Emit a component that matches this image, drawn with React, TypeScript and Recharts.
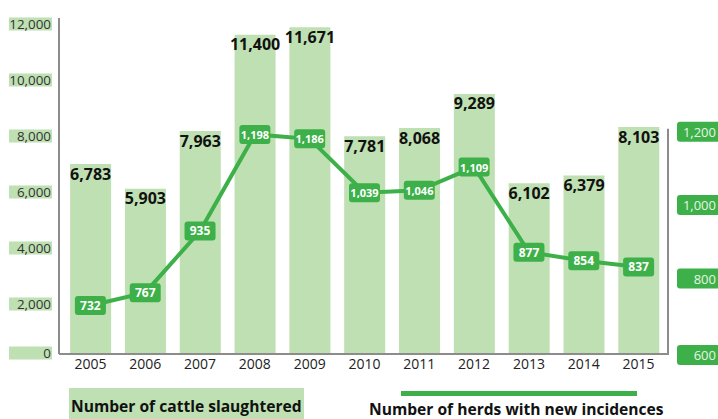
import React from 'react';
import { ComposedChart, Bar, Line, XAxis, YAxis, LabelList } from 'recharts';

const years = ['2005', '2006', '2007', '2008', '2009', '2010', '2011', '2012', '2013', '2014', '2015'];
const cattleSlaughtered = [6783, 5903, 7963, 11400, 11671, 7781, 8068, 9289, 6102, 6379, 8103];
const herdsNewIncidences = [732, 767, 935, 1198, 1186, 1039, 1046, 1109, 877, 854, 837];
const leftTicks = [0, 2000, 4000, 6000, 8000, 10000, 12000];
const rightTicks = [600, 800, 1000, 1200];

const data = years.map((year, i) => ({
  year,
  cattle: cattleSlaughtered[i],
  herds: herdsNewIncidences[i],
}));

const FONT = '"Open Sans", sans-serif';
const BAR_GREEN = '#bee0b2';
const LINE_GREEN = '#3db049';
const AXIS_GRAY = '#8c8c8c';

const CHART_W = 718;
const CHART_H = 419;
const MARGIN = { top: 18, right: 0, bottom: 45, left: 0 };
const X_AXIS_H = 20;
const PLOT_BOTTOM = CHART_H - MARGIN.bottom - X_AXIS_H;

const fmt = (v: number) => v.toLocaleString('en-US');

const LeftTick = (props: any) => {
  const { y, payload } = props;
  const cy = y + (payload.value === 0 ? -1 : 6);
  return (
    <g>
      <rect x={9} y={cy - 6.5} width={43} height={13} fill={BAR_GREEN} />
      <text x={51} y={cy} textAnchor="end" dominantBaseline="central" fontSize={13.4} fill="#333" fontFamily={FONT}>
        {fmt(payload.value)}
      </text>
    </g>
  );
};

const RightTick = (props: any) => {
  const { x, y, payload } = props;
  const cy = payload.value === 600 ? y + 1 : y - 2;
  return (
    <g>
      {/* short right frame line, starts at the top tick */}
      {payload.value === 1200 && (
        <line x1={x} x2={x} y1={cy - 3} y2={PLOT_BOTTOM + 1} stroke={AXIS_GRAY} strokeWidth={2} />
      )}
      <rect x={x + 9} y={cy - 10} width={50} height={20} rx={3} fill={LINE_GREEN} />
      <text x={x + 48} y={cy} textAnchor="end" dominantBaseline="central" fontSize={13} fill="#e8f5e4" fontFamily={FONT}>
        {fmt(payload.value)}
      </text>
    </g>
  );
};

const YearTick = (props: any) => {
  const { x, y, payload } = props;
  return (
    <text x={x} y={y + 15} textAnchor="middle" fontSize={14} fill="#222" fontFamily={FONT}>
      {payload.value}
    </text>
  );
};

const CattleLabel = (props: any) => {
  const { x, y, width, value } = props;
  return (
    <text x={x + width / 2} y={y + 15.5} textAnchor="middle" fontSize={16} fontWeight="bold" fill="#111" fontFamily={FONT}>
      {fmt(value)}
    </text>
  );
};

const HerdLabel = (props: any) => {
  const { x, y, value } = props;
  const txt = fmt(value);
  const long = txt.length > 3;
  return (
    <g>
      <rect x={x - 15.5} y={y - 9.5} width={31} height={19} rx={3} fill={LINE_GREEN} />
      <text
        x={x}
        y={y}
        textAnchor="middle"
        dominantBaseline="central"
        fontSize={long ? 11 : 12}
        fontWeight="bold"
        fill="#fff"
        fontFamily={FONT}
      >
        {txt}
      </text>
    </g>
  );
};

export default function App() {
  return (
    <div style={{ position: 'absolute', left: 0, top: 0, width: CHART_W, height: CHART_H, overflow: 'hidden', background: '#fff', fontFamily: FONT }}>
      <ComposedChart width={CHART_W} height={CHART_H} data={data} margin={MARGIN} barCategoryGap="13%">
        <XAxis
          dataKey="year"
          height={X_AXIS_H}
          padding={{ left: 4, right: 2 }}
          axisLine={{ stroke: AXIS_GRAY, strokeWidth: 2 }}
          tickLine={false}
          tickSize={0}
          tickMargin={0}
          interval={0}
          tick={<YearTick />}
        />
        <YAxis
          yAxisId="left"
          width={59}
          domain={[0, 12000]}
          ticks={leftTicks}
          interval={0}
          axisLine={{ stroke: AXIS_GRAY, strokeWidth: 2 }}
          tickLine={false}
          tickSize={0}
          tickMargin={0}
          tick={<LeftTick />}
        />
        <YAxis
          yAxisId="right"
          orientation="right"
          width={50}
          domain={[600, 1515]}
          ticks={rightTicks}
          interval={0}
          allowDataOverflow
          axisLine={false}
          tickLine={false}
          tickSize={0}
          tickMargin={0}
          tick={<RightTick />}
        />
        <Bar yAxisId="left" dataKey="cattle" fill={BAR_GREEN} isAnimationActive={false}>
          <LabelList dataKey="cattle" content={<CattleLabel />} />
        </Bar>
        <Line
          yAxisId="right"
          dataKey="herds"
          type="linear"
          stroke={LINE_GREEN}
          strokeWidth={4}
          dot={false}
          activeDot={false}
          isAnimationActive={false}
        >
          <LabelList dataKey="herds" content={<HerdLabel />} />
        </Line>
      </ComposedChart>

      {/* legend */}
      <div style={{ position: 'absolute', left: 69, top: 388, width: 235, height: 31, background: BAR_GREEN }}>
        <span style={{ position: 'absolute', left: 2, top: 8, fontSize: 15.6, fontWeight: 'bold', color: '#111', lineHeight: '20px', whiteSpace: 'nowrap' }}>
          Number of cattle slaughtered
        </span>
      </div>
      <div style={{ position: 'absolute', left: 401, top: 391, width: 236, height: 4.5, background: LINE_GREEN }} />
      <div style={{ position: 'absolute', left: 369, top: 399, fontSize: 15.6, fontWeight: 'bold', color: '#111', lineHeight: '20px', whiteSpace: 'nowrap' }}>
        Number of herds with new incidences
      </div>
    </div>
  );
}
